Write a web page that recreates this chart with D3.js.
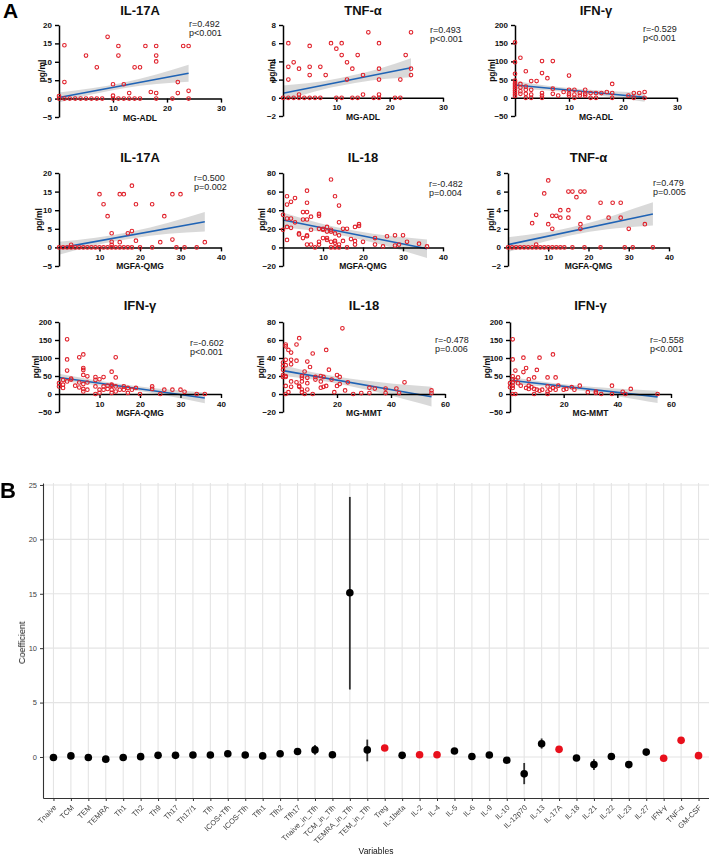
<!DOCTYPE html>
<html>
<head>
<meta charset="utf-8">
<script src="https://cdn.jsdelivr.net/npm/d3@7"></script>
<style>
body { margin: 0; background: #fff; }
svg { display: block; font-family: "Liberation Sans", Arial, sans-serif; }
.rot { will-change: transform; opacity: 0.999; }
</style>
</head>
<body>
<svg id="chart" width="709" height="856"></svg>
<script>
// ---------- panel A data ----------
// each point is [clinical score, cytokine pg/ml]
var il17aAdl = [[1,14.5],[1,4.5],[0,0.7],[9,16.8],[5,11.7],[7,8.5],[11,14.3],[11,11.7],[10,3.9],[10,0.8],[12,3.9],[13,1.5],[14,8.5],[15,8.5],[16,14.3],[17,1.8],[18,14.3],[18,11.7],[18,10.1],[18,1.5],[22,4.5],[22,1.5],[23,14.3],[24,14.3],[24,2.1],
    [0,0],[1,0],[2,0],[3,0],[4,0],[5,0],[6,0],[7,0],[8,0],[10,0],[11,0],[12,0],[13,0],[14,0],[15,0],[18,0],[21,0],[24,0]];
var tnfAdl = [[1,6],[1,3.4],[1,2],[2,3.9],[3,3.2],[3,0.35],[5,5.7],[5,3.4],[5,2.5],[7,3.4],[8,2.5],[9,6],[10,5.4],[11,6],[11,4.7],[12,3.9],[12,2],[13,3.2],[14,4.7],[15,2.5],[15,0.35],[16,7.2],[18,6],[18,3.2],[18,2],[18,0.35],[22,2],[23,4.7],[24,7.2],[24,3.2],[24,2.5],
    [0,0],[1,0],[2,0],[3,0],[4,0],[5,0],[6,0],[7,0],[10,0],[11,0],[13,0],[14,0],[17,0],[18,0],[21,0],[22,0]];
var ifngAdl = [[0,152],[0,98],[0,66],[0,47],[0,40],[0,35],[0,30],[0,25],[0,20],[0,15],[0,10],[0,5],[1,110],[1,38],[1,28],[1,18],[1,11],[2,73],[2,31],[2,22],[2,11],[2,0],[3,46],[3,22],[3,9],[3,0],[4,46],[5,101],[5,68],[5,13],[5,6],[5,0],[6,54],[7,101],[7,25],[7,11],[8,6],[9,16],[10,61],[10,22],[10,11],[10,6],[11,22],[11,9],[11,0],[12,13],[12,6],[13,22],[13,11],[13,6],[14,13],[14,0],[15,13],[15,0],[16,13],[17,16],[18,38],[18,13],[18,0],[21,6],[22,13],[22,0],[23,13],[24,16],[24,0]];
var il17aQmg = [[10,14.3],[11,11.6],[12,8.4],[13,3.8],[13,1.5],[13,0.7],[15,14.3],[15,1.4],[16,14.3],[17,3.8],[18,16.6],[18,4.4],[19,11.6],[19,1.8],[23,11.6],[25,1.4],[26,8.4],[28,14.3],[28,2.1],[30,14.3],[36,1.4],[3,0.7],
    [0,0],[1,0],[2,0],[3,0],[4,0],[5,0],[6,0],[7,0],[8,0],[9,0],[10,0],[11,0],[12,0],[13,0],[14,0],[15,0],[16,0],[17,0],[18,0],[20,0],[23,0],[29,0],[31,0],[34,0]];
var il18Qmg = [[12,73],[6,61],[1,55],[13,55],[1,46],[2,49],[3,53],[6,48],[14,45],[0,35],[5,38],[6,38],[9,36],[9,34],[7,33],[5,30],[6,30],[1,31],[2,31],[3,27],[14,27],[0,19],[1,22],[2,21],[7,19],[9,20],[10,20],[11,22],[12,19],[12,17],[10,19],[11,17],[15,20],[16,20],[18,22],[19,23],[19,25],[1,8],[4,15],[4,14],[5,10],[6,13],[6,12],[6,3],[7,3],[8,0],[9,6],[9,3],[10,10],[11,10],[11,8],[12,6],[12,0],[13,7],[13,0],[13,5],[13,15],[14,13],[14,3],[14,0],[15,7],[16,0],[17,9],[18,7],[18,3],[20,6],[23,10],[23,3],[25,1],[26,12],[28,13],[28,2],[29,3],[30,13],[31,6],[34,4],[36,1]];
var tnfQmg = [[10,7.2],[9,5.8],[6,2.6],[7,3.5],[7,0.3],[10,2.5],[11,2],[11,3.4],[12,3.4],[13,4],[13,3.2],[15,6],[16,6],[17,5.4],[18,6],[19,6],[15,4],[15,3.2],[18,2.5],[18,2],[20,3.2],[23,4.8],[25,3.2],[26,4.8],[28,4.8],[28,3.2],[30,2],[34,2.5],
    [0,0],[1,0],[2,0],[3,0],[4,0],[5,0],[6,0],[7,0],[8,0],[9,0],[10,0],[11,0],[12,0],[13,0],[14,0],[16,0],[19,0],[23,0],[29,0],[31,0],[36,0]];
var ifngQmg = [[2,152],[2,96],[2,65],[6,110],[5,102],[6,72],[6,67],[6,53],[7,49],[14,102],[13,62],[14,46],[0,30],[0,21],[1,26],[1,17],[1,39],[2,35],[3,43],[3,40],[4,23],[5,18],[5,32],[6,28],[6,14],[6,7],[7,32],[7,12],[9,47],[9,39],[9,21],[10,41],[10,12],[11,47],[9,0],[10,3],[11,21],[11,12],[12,23],[12,14],[13,23],[13,26],[13,12],[13,3],[14,21],[14,7],[15,12],[16,21],[16,12],[17,17],[17,3],[18,12],[19,17],[20,0],[23,21],[23,14],[25,0],[26,12],[28,12],[30,12],[31,6],[34,0],[36,0]];
var il18Mmt = [[22,73],[6,62],[5,55],[1,55],[1,53],[2,49],[3,46],[11,45],[16,49],[5,37],[3,38],[1,38],[9,36],[3,33],[1,32],[0,35],[0,31],[0,27],[10,30],[17,27],[0,21],[1,20],[1,19],[0,19],[7,20],[7,18],[8,25],[9,18],[12,19],[14,20],[15,19],[20,21],[21,19],[3,14],[5,13],[6,9],[7,14],[9,12],[12,16],[14,14],[18,16],[1,9],[3,8],[6,8],[7,5],[9,5],[14,7],[15,8],[16,9],[20,9],[21,11],[24,13],[1,0],[2,2],[7,2],[8,0],[11,0],[19,2],[23,4],[26,0],[29,1],[32,7],[32,1],[34,6],[38,6],[38,1],[42,6],[43,1],[45,13],[55,4],[55,1]];
var ifngMmt = [[1,152],[1,96],[5,101],[11,101],[16,110],[6,72],[10,67],[5,61],[2,65],[1,49],[2,39],[3,46],[1,41],[1,32],[1,23],[1,17],[0,30],[0,19],[7,41],[9,46],[14,46],[17,46],[3,30],[4,23],[6,17],[7,23],[7,14],[8,19],[9,14],[10,12],[11,9],[12,12],[14,21],[14,7],[15,12],[16,17],[17,12],[18,23],[20,12],[21,14],[23,19],[24,12],[26,23],[29,5],[32,7],[32,3],[34,0],[38,23],[38,0],[42,6],[43,0],[45,14],[55,0],[1,0],[2,0],[9,0],[14,0]];

// fitted line ends and 95% band [x, lower, upper], as drawn
var il17aAdlFit = [[0,0.3],[24,6.9]];
var il17aAdlBand = [[0,-1.05,1.65],[6,1.1,2.8],[12,2.8,4.4],[18,3.95,6.55],[24,4.6,9.2]];
var tnfAdlFit = [[0,0.5],[24,3.3]];
var tnfAdlBand = [[0,-0.35,1.35],[6,0.7,1.7],[12,1.45,2.35],[18,2.0,3.2],[24,2.25,4.35]];
var ifngAdlFit = [[0,35],[24,1.4]];
var ifngAdlBand = [[0,24,46],[6,20.1,33.1],[12,12.2,24.2],[18,1.8,17.8],[24,-10.6,13.4]];
var il17aQmgFit = [[0,-0.2],[36,6.9]];
var il17aQmgBand = [[0,-1.95,1.55],[9,0.6,2.6],[18,2.4,4.3],[27,3.65,6.65],[36,4.3,9.5]];
var il18QmgFit = [[0,29.4],[36,-1.5]];
var il18QmgBand = [[0,21.4,37.4],[9,17.2,26.2],[18,9.9,17.9],[27,0.2,12.2],[36,-11.5,8.5]];
var tnfQmgFit = [[0,0.3],[36,3.6]];
var tnfQmgBand = [[0,-0.5,1.1],[9,0.6,1.6],[18,1.5,2.4],[27,2.05,3.55],[36,2.35,4.85]];
var ifngQmgFit = [[0,46],[36,-11]];
var ifngQmgBand = [[0,36,56],[9,25.25,38.25],[18,11.5,23.5],[27,-5.75,12.25],[36,-26,4]];
var il18MmtFit = [[0,26],[55,-3]];
var il18MmtBand = [[0,20,32],[14,14.8,22.4],[28,6.7,15.7],[41,-2.6,11.4],[55,-14,8]];
var ifngMmtFit = [[0,38],[55,-8]];
var ifngMmtBand = [[0,28,48],[14,20.3,32.3],[28,7.6,21.6],[41,-7.3,14.7],[55,-25,9]];

var titlesA = ["IL-17A", "TNF-\u03b1", "IFN-\u03b3", "IL-17A", "IL-18", "TNF-\u03b1", "IFN-\u03b3", "IL-18", "IFN-\u03b3"];
var xLabelsA = ["MG-ADL", "MG-ADL", "MG-ADL", "MGFA-QMG", "MGFA-QMG", "MGFA-QMG", "MGFA-QMG", "MG-MMT", "MG-MMT"];
var statR = ["r=0.492", "r=0.493", "r=-0.529", "r=0.500", "r=-0.482", "r=0.479", "r=-0.602", "r=-0.478", "r=-0.558"];
var statP = ["p<0.001", "p<0.001", "p<0.001", "p=0.002", "p=0.004", "p=0.005", "p<0.001", "p=0.006", "p<0.001"];

// ---------- panel B data ----------
var varNames = ["Tnaive","TCM","TEM","TEMRA","Th1","Th2","Th9","Th17","Th17/1","Tfh","ICOS+Tfh","ICOS-Tfh","Tfh1","Tfh2","Tfh17",
    "Tnaive_in_Tfh","TCM_in_Tfh","TEMRA_in_Tfh","TEM_in_Tfh","Treg","IL-1beta","IL-2","IL-4","IL-5","IL-6","IL-9","IL-10","IL-12p70",
    "IL-13","IL-17A","IL-18","IL-21","IL-22","IL-23","IL-27","IFN-\u03b3","TNF-\u03b1","GM-CSF"];
var coef = [-0.05,0.1,-0.05,-0.2,-0.05,0.03,0.15,0.15,0.18,0.18,0.3,0.18,0.1,0.3,0.5,0.65,0.2,15.1,0.65,0.83,0.15,0.2,0.2,0.55,0.05,0.18,-0.3,-1.55,1.22,0.7,-0.1,-0.7,0.05,-0.7,0.45,-0.12,1.53,0.12];
var ciLo = [-0.2,-0.05,-0.2,-0.35,-0.2,-0.12,0,0,0.03,0.03,0.15,0.03,-0.05,0.15,0.35,0.2,0.05,6.2,-0.4,0.68,0,0.05,0.05,0.4,-0.1,0.03,-0.45,-2.5,0.77,0.55,-0.25,-1.2,-0.1,-0.85,0.3,-0.27,1.38,-0.03];
var ciHi = [0.1,0.25,0.1,-0.05,0.1,0.18,0.3,0.3,0.33,0.33,0.45,0.33,0.25,0.45,0.65,1.1,0.35,23.9,1.6,0.98,0.3,0.35,0.35,0.7,0.2,0.33,-0.15,-0.55,1.7,0.85,0.05,-0.2,0.2,-0.55,0.6,0.03,1.68,0.27];
var sigVars = ["Treg","IL-2","IL-4","IL-17A","IFN-\u03b3","TNF-\u03b1","GM-CSF"];
var coefTicks = [0, 5, 10, 15, 20, 25];

var svg = d3.select("#chart");

// layout of the nine scatter plots: axis box in pixels
var layoutA = [
    {pts: il17aAdl, fit: il17aAdlFit, band: il17aAdlBand, xmax: 30, xt: [10,20,30], yd: [-5,20], yt: [-5,0,5,10,15,20], l: 59, r: 221, t: 25, b: 117, ty: 15, yo: -17, sx: 189, sy: 27},
    {pts: tnfAdl, fit: tnfAdlFit, band: tnfAdlBand, xmax: 30, xt: [10,20,30], yd: [-2,8], yt: [-2,0,2,4,6,8], l: 283, r: 443, t: 25, b: 116, ty: 15, yo: -11, sx: 430, sy: 33},
    {pts: ifngAdl, fit: ifngAdlFit, band: ifngAdlBand, xmax: 30, xt: [10,20,30], yd: [-50,200], yt: [-50,0,50,100,150,200], l: 515, r: 677, t: 25, b: 116, ty: 15, yo: -23, sx: 643, sy: 32},
    {pts: il17aQmg, fit: il17aQmgFit, band: il17aQmgBand, xmax: 40, xt: [10,20,30,40], yd: [-5,20], yt: [-5,0,5,10,15,20], l: 59, r: 221, t: 173, b: 266, ty: 162, yo: -20, sx: 194, sy: 181},
    {pts: il18Qmg, fit: il18QmgFit, band: il18QmgBand, xmax: 40, xt: [10,20,30,40], yd: [-20,80], yt: [-20,0,20,40,60,80], l: 283, r: 443, t: 173, b: 266, ty: 162, yo: -21, sx: 429, sy: 187},
    {pts: tnfQmg, fit: tnfQmgFit, band: tnfQmgBand, xmax: 40, xt: [10,20,30,40], yd: [-2,8], yt: [-2,0,2,4,6,8], l: 508, r: 669, t: 173, b: 266, ty: 162, yo: -17, sx: 653, sy: 186},
    {pts: ifngQmg, fit: ifngQmgFit, band: ifngQmgBand, xmax: 40, xt: [10,20,30,40], yd: [-50,200], yt: [-50,0,50,100,150,200], l: 59, r: 221, t: 322, b: 412, ty: 310, yo: -23, sx: 190, sy: 346},
    {pts: il18Mmt, fit: il18MmtFit, band: il18MmtBand, xmax: 60, xt: [20,40,60], yd: [-20,80], yt: [-20,0,20,40,60,80], l: 283, r: 445, t: 322, b: 412, ty: 310, yo: -22, sx: 435, sy: 343},
    {pts: ifngMmt, fit: ifngMmtFit, band: ifngMmtBand, xmax: 60, xt: [20,40,60], yd: [-50,200], yt: [-50,0,50,100,150,200], l: 510, r: 671, t: 322, b: 412, ty: 310, yo: -23, sx: 650, sy: 343}
];

layoutA.forEach(function (p, i) {
    var x = d3.scaleLinear().domain([0, p.xmax]).range([p.l, p.r]);
    var y = d3.scaleLinear().domain(p.yd).range([p.b, p.t]);
    var g = svg.append("g");

    // confidence band
    var area = d3.area()
        .x(function (d) { return x(d[0]); })
        .y0(function (d) { return y(d[1]); })
        .y1(function (d) { return y(d[2]); })
        .curve(d3.curveNatural);
    g.append("path").datum(p.band)
        .attr("d", area)
        .attr("fill", "#d0d0d0")
        .attr("fill-opacity", 0.8);

    g.append("path").datum(p.fit)
        .attr("d", d3.line().x(function (d) { return x(d[0]); }).y(function (d) { return y(d[1]); }))
        .attr("stroke", "#1f63b5")
        .attr("stroke-width", 1.6)
        .attr("fill", "none");

    var ya = g.append("g")
        .attr("transform", "translate(" + p.l + ",0)")
        .call(d3.axisLeft(y).tickValues(p.yt).tickSize(4).tickSizeOuter(0));
    var xa = g.append("g")
        .attr("transform", "translate(0," + y(0) + ")")
        .call(d3.axisBottom(x).tickValues(p.xt).tickSize(4).tickSizeOuter(0));

    [ya, xa].forEach(function (a) {
        a.select(".domain").attr("stroke", "#000").attr("stroke-width", 1.5);
        a.selectAll(".tick line").attr("stroke", "#000").attr("stroke-width", 1.4);
        a.selectAll(".tick text")
            .attr("fill", "#111")
            .style("font-size", "8px")
            .style("font-weight", "bold")
            .style("font-family", "'Liberation Sans', Arial, sans-serif");
    });

    g.selectAll(".pt")
        .data(p.pts)
        .enter().append("circle")
        .attr("class", "pt")
        .attr("cx", function (d) { return x(d[0]); })
        .attr("cy", function (d) { return y(d[1]); })
        .attr("r", 1.8)
        .attr("fill", "none")
        .attr("stroke", "#e0202a")
        .attr("stroke-width", 1.1);

    var cx = (p.l + p.r) / 2;
    g.append("text")
        .attr("x", cx).attr("y", p.ty)
        .attr("text-anchor", "middle")
        .style("font-size", "13px").style("font-weight", "bold")
        .attr("fill", "#111")
        .text(titlesA[i]);

    g.append("text")
        .attr("x", cx).attr("y", y(0) + 22)
        .attr("text-anchor", "middle")
        .style("font-size", "8.5px").style("font-weight", "bold")
        .attr("fill", "#111")
        .text(xLabelsA[i]);

    g.append("text")
        .attr("transform", "translate(" + (p.l + p.yo) + "," + ((p.t + p.b) / 2) + ") rotate(-90)")
        .attr("text-anchor", "middle")
        .attr("dy", "0.35em")
        .style("font-size", "8.5px").style("font-weight", "bold")
        .attr("fill", "#111")
        .text("pg/ml");

    g.append("text").attr("x", p.sx).attr("y", p.sy)
        .style("font-size", "9px").attr("fill", "#222").text(statR[i]);
    g.append("text").attr("x", p.sx).attr("y", p.sy + 9)
        .style("font-size", "9px").attr("fill", "#222").text(statP[i]);
});

svg.append("text").attr("x", 3).attr("y", 18)
    .style("font-size", "21px").style("font-weight", "bold").text("A");

// ---------- panel B ----------
var bx = d3.scalePoint().domain(varNames).range([43, 709]).padding(0.6);
var by = d3.scaleLinear().domain([-3.77, 25.18]).range([798, 483]);

var gb = svg.append("g");

gb.selectAll(".vgrid")
    .data(varNames)
    .enter().append("line")
    .attr("x1", function (d) { return bx(d); })
    .attr("x2", function (d) { return bx(d); })
    .attr("y1", by.range()[0]).attr("y2", by.range()[1])
    .attr("stroke", "#e4e4e4").attr("stroke-width", 1.1);

gb.selectAll(".hgrid")
    .data(coefTicks)
    .enter().append("line")
    .attr("x1", bx.range()[0]).attr("x2", bx.range()[1])
    .attr("y1", function (d) { return by(d); })
    .attr("y2", function (d) { return by(d); })
    .attr("stroke", "#e4e4e4").attr("stroke-width", 1.1);

var yAxisB = gb.append("g")
    .attr("transform", "translate(43,0)")
    .call(d3.axisLeft(by).tickValues(coefTicks).tickSize(3).tickSizeOuter(0));
var xAxisB = gb.append("g")
    .attr("class", "rot")
    .attr("transform", "translate(0,798)")
    .call(d3.axisBottom(bx).tickSize(3).tickSizeOuter(0));

[yAxisB, xAxisB].forEach(function (a) {
    a.select(".domain").attr("stroke", "#333").attr("stroke-width", 1.1);
    a.selectAll(".tick line").attr("stroke", "#333");
    a.selectAll(".tick text")
        .attr("fill", "#444")
        .style("font-size", "7.5px")
        .style("font-family", "'Liberation Sans', Arial, sans-serif");
});

xAxisB.selectAll(".tick text")
    .attr("text-anchor", "end")
    .attr("x", 0).attr("y", 0).attr("dy", 0)
    .attr("transform", "translate(3,10) rotate(-45)");

var rows = varNames.map(function (v, i) {
    return {name: v, c: coef[i], lo: ciLo[i], hi: ciHi[i]};
});

gb.selectAll(".err")
    .data(rows)
    .enter().append("line")
    .attr("x1", function (d) { return bx(d.name); })
    .attr("x2", function (d) { return bx(d.name); })
    .attr("y1", function (d) { return by(d.lo); })
    .attr("y2", function (d) { return by(d.hi); })
    .attr("stroke", "#333").attr("stroke-width", 1.8);

gb.selectAll(".dot")
    .data(rows)
    .enter().append("circle")
    .attr("cx", function (d) { return bx(d.name); })
    .attr("cy", function (d) { return by(d.c); })
    .attr("r", 3.8)
    .attr("fill", function (d) { return sigVars.indexOf(d.name) >= 0 ? "#e8101c" : "#000"; });

gb.append("text")
    .attr("class", "rot")
    .attr("transform", "translate(25," + by(10.5) + ") rotate(-90)")
    .attr("text-anchor", "middle")
    .style("font-size", "9px").attr("fill", "#111")
    .text("Coefficient");

gb.append("text")
    .attr("x", (bx.range()[0] + bx.range()[1]) / 2).attr("y", 854)
    .attr("text-anchor", "middle")
    .style("font-size", "8.5px").attr("fill", "#111")
    .text("Variables");

svg.append("text").attr("x", 0).attr("y", 498)
    .style("font-size", "22px").style("font-weight", "bold").text("B");
</script>
</body>
</html>
